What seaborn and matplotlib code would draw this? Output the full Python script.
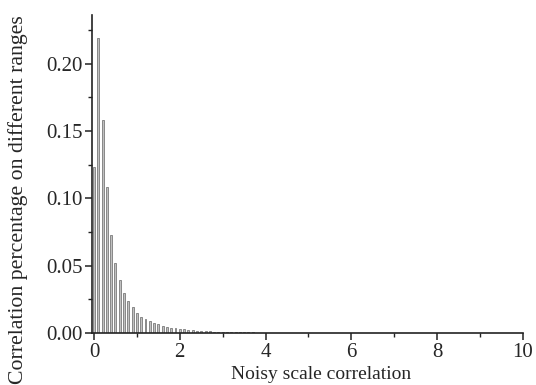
import numpy as np
import pandas as pd
import matplotlib
matplotlib.use("Agg")
import matplotlib.pyplot as plt
import seaborn as sns
from matplotlib.ticker import MultipleLocator

# bin centres (0.1 steps) and fraction of correlations in each bin
bins = [0.0, 0.1, 0.2, 0.3, 0.4, 0.5, 0.6, 0.7, 0.8, 0.9,
        1.0, 1.1, 1.2, 1.3, 1.4, 1.5, 1.6, 1.7, 1.8, 1.9,
        2.0, 2.1, 2.2, 2.3, 2.4, 2.5, 2.6, 2.7, 2.8, 2.9,
        3.0, 3.1, 3.2, 3.3, 3.4, 3.5, 3.6, 3.7, 3.8, 3.9,
        4.0, 4.1, 4.2, 4.3, 4.4, 4.5]
share = [0.123, 0.219, 0.158, 0.108, 0.073, 0.052, 0.039, 0.030, 0.024, 0.019,
         0.015, 0.012, 0.0104, 0.0089, 0.0077, 0.0064, 0.0054, 0.0047, 0.0041, 0.0036,
         0.0032, 0.0028, 0.0024, 0.0021, 0.0018, 0.0016, 0.0014, 0.0012, 0.0011, 0.0010,
         0.0009, 0.0008, 0.0007, 0.0006, 0.0005, 0.0005, 0.0004, 0.0004, 0.0003, 0.0003,
         0.0002, 0.0002, 0.0002, 0.0001, 0.0001, 0.0001]

df = pd.DataFrame({"bin": bins, "share": share})

sns.set_style("ticks")
plt.rcParams['font.family'] = ['Liberation Serif', 'DejaVu Serif']

fig = plt.figure(figsize=(5.36, 3.85), dpi=100)
ax = fig.add_axes([0.1722, 0.135, 0.8035, 0.826])

sns.barplot(data=df, x="bin", y="share", native_scale=True, width=0.45,
            color="#c0c0c0", edgecolor="#7a7a7a", linewidth=0.6,
            saturation=1, errorbar=None, ax=ax)

ax.set_xlim(-0.04, 10)
ax.set_ylim(0, 0.236)
ax.xaxis.set_major_locator(MultipleLocator(2))
ax.xaxis.set_minor_locator(MultipleLocator(1))
ax.yaxis.set_major_locator(MultipleLocator(0.05))
ax.yaxis.set_minor_locator(MultipleLocator(0.025))
ax.yaxis.set_major_formatter(plt.FormatStrFormatter('%.2f'))

ax.tick_params(which='major', length=5, width=1.1, labelsize=15, color='#222222', pad=2)
ax.tick_params(which='minor', length=3, width=1.0, color='#222222')
for s in ['left', 'bottom']:
    ax.spines[s].set_linewidth(1.2)
    ax.spines[s].set_color('#222222')
sns.despine(ax=ax)

ax.set_xlabel("Noisy scale correlation", fontsize=14)
ax.xaxis.label.set_va('center')
ax.xaxis.set_label_coords(0.531, -0.129)
ax.set_ylabel("Correlation percentage on different ranges", fontsize=15.7)
ax.yaxis.label.set_va('center')
ax.yaxis.set_label_coords(-0.1725, 0.421)

fig.savefig("out.png", dpi=100)
